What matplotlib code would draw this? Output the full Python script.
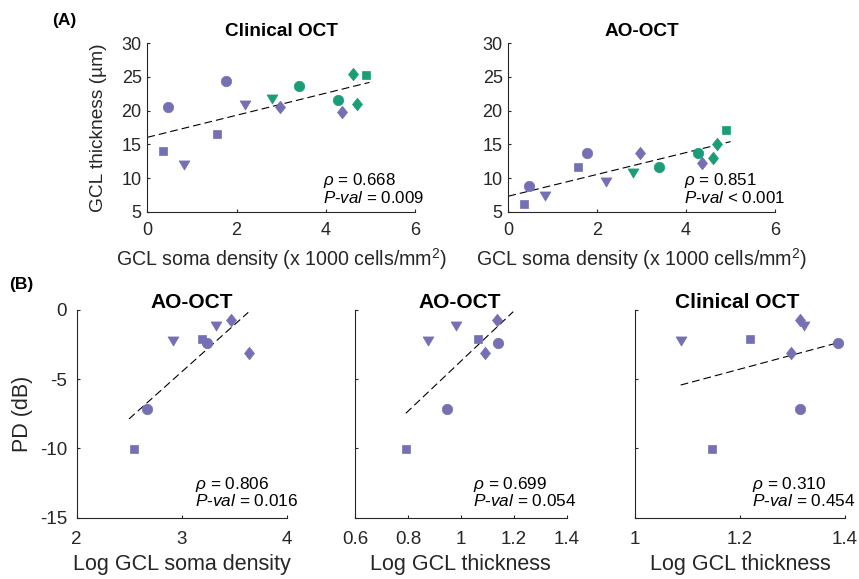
import matplotlib
matplotlib.use("Agg")
import matplotlib.pyplot as plt
import numpy as np
from matplotlib.path import Path

plt.rcParams['font.family'] = ['Liberation Sans', 'DejaVu Sans']
plt.rcParams['mathtext.fontset'] = 'custom'
plt.rcParams['mathtext.rm'] = 'Liberation Sans'
plt.rcParams['mathtext.it'] = 'Liberation Sans:italic'
plt.rcParams['mathtext.bf'] = 'Liberation Sans:bold'
plt.rcParams['axes.unicode_minus'] = False

# ---------------- data ----------------
# Panel A: GCL soma density (x1000 cells/mm^2) vs GCL thickness (um)
soma_density = [0.36, 0.47, 0.83, 1.56, 1.76, 2.19, 2.80, 2.97, 3.40, 4.27, 4.36, 4.60, 4.69, 4.90]
thick_clinical = [14.0, 20.5, 12.0, 16.5, 24.4, 20.8, 21.8, 20.5, 23.6, 21.6, 19.75, 25.5, 21.0, 25.25]
thick_aooct = [6.2, 8.8, 7.3, 11.6, 13.7, 9.4, 10.8, 13.7, 11.6, 13.7, 12.3, 13.0, 15.1, 17.2]
a_markers = ['s', 'o', 'v', 's', 'o', 'v', 'v', 'd', 'o', 'o', 'd', 'd', 'd', 's']
a_groups = ['p', 'p', 'p', 'p', 'p', 'p', 'g', 'p', 'g', 'g', 'p', 'g', 'g', 'g']

fitA_clin_x = [0.0, 4.98]
fitA_clin_y = [16.04, 24.2]
fitA_ao_x = [0.0, 5.0]
fitA_ao_y = [7.3, 15.4]

# Panel B: PD (dB) vs log measures (purple group only)
pd_db = [-10.06, -7.15, -2.24, -2.12, -2.41, -1.16, -0.72, -3.13]
b_markers = ['s', 'o', 'v', 's', 'o', 'v', 'd', 'd']
log_soma = [2.546, 2.667, 2.914, 3.19, 3.238, 3.33, 3.47, 3.64]
log_thick_ao = [0.792, 0.949, 0.877, 1.066, 1.139, 0.982, 1.138, 1.092]
log_thick_clin = [1.147, 1.314, 1.087, 1.219, 1.387, 1.322, 1.314, 1.297]

fitB_soma_x = [2.498, 3.634]
fitB_soma_y = [-7.87, -0.17]
fitB_ao_x = [0.792, 1.198]
fitB_ao_y = [-7.46, -0.12]
fitB_clin_x = [1.087, 1.39]
fitB_clin_y = [-5.42, -2.33]

stats_A = [("0.668", "= 0.009"), ("0.851", "< 0.001")]
stats_B = [("0.806", "= 0.016"), ("0.699", "= 0.054"), ("0.310", "= 0.454")]

colors = {'p': '#7570b3', 'g': '#1b9e77'}
TXT = '#262626'

# MATLAB-like marker shapes
diamond = Path([(0, 0.5), (0.4, 0), (0, -0.5), (-0.4, 0), (0, 0.5)],
               [Path.MOVETO, Path.LINETO, Path.LINETO, Path.LINETO, Path.CLOSEPOLY])
tri_down = Path([(-0.5, 0.42), (0.5, 0.42), (0, -0.42), (-0.5, 0.42)],
                [Path.MOVETO, Path.LINETO, Path.LINETO, Path.CLOSEPOLY])
marker_map = {'o': ('o', 7.5), 's': ('s', 5.6), 'v': (tri_down, 7.8), 'd': (diamond, 9.0)}

W, H = 859, 579
fig = plt.figure(figsize=(W / 100, H / 100), dpi=100)


def px_axes(x0, x1, y0, y1):
    return fig.add_axes([x0 / W, 1 - y1 / H, (x1 - x0) / W, (y1 - y0) / H])


def style(ax, tick_fs, pad_x, pad_y):
    for s in ['top', 'right']:
        ax.spines[s].set_visible(False)
    for s in ['left', 'bottom']:
        ax.spines[s].set_color(TXT)
        ax.spines[s].set_linewidth(0.8)
    ax.tick_params(direction='in', length=2.5, width=0.8, colors=TXT,
                   labelsize=tick_fs, labelcolor=TXT)
    ax.tick_params(axis='x', pad=pad_x)
    ax.tick_params(axis='y', pad=pad_y)


def scatter(ax, xs, ys, markers, groups):
    for x, y, m, g in zip(xs, ys, markers, groups):
        mk, ms = marker_map[m]
        ax.plot(x, y, linestyle='none', marker=mk, ms=ms,
                color=colors[g], mec=colors[g], mew=0.5, zorder=3)


def stats_text(ax, xf, yf1, yf2, rho, pv, fs):
    ax.text(xf, yf1, r"$\rho$ = " + rho, transform=ax.transAxes, fontsize=fs,
            color='black', ha='left', va='baseline')
    ax.text(xf, yf2, r"$P$-$val$ " + pv, transform=ax.transAxes, fontsize=fs,
            color='black', ha='left', va='baseline')


# ---- Panel A ----
axA1 = px_axes(147.3, 415.0, 43.3, 211.7)
axA2 = px_axes(508.3, 775.0, 43.3, 211.7)
for ax, ys, fx, fy, title, st, xf in [
        (axA1, thick_clinical, fitA_clin_x, fitA_clin_y, 'Clinical OCT', stats_A[0], 0.655),
        (axA2, thick_aooct, fitA_ao_x, fitA_ao_y, 'AO-OCT', stats_A[1], 0.659)]:
    style(ax, 13, 7.5, 4)
    scatter(ax, soma_density, ys, a_markers, a_groups)
    ax.plot(fx, fy, color='black', lw=0.8, dashes=(7, 3.6), zorder=2)
    ax.set_xlim(0, 6)
    ax.set_ylim(5, 30)
    ax.set_xticks([0, 2, 4, 6])
    ax.set_yticks([5, 10, 15, 20, 25, 30])
    ax.text(0.5, 1.043, title, transform=ax.transAxes, ha='center', va='baseline',
            fontsize=13.7, fontweight='bold', color='black')
    ax.set_xlabel(r"GCL soma density (x 1000 cells/mm$^2$)", fontsize=14.1, color=TXT)
    ax.xaxis.label.set_va('baseline')
    ax.xaxis.set_label_coords(0.5, -0.322)
    stats_text(ax, xf, 0.159, 0.05, st[0], st[1], 12.2)

axA1.set_ylabel(u"GCL thickness (\u00b5m)", fontsize=13.8, color=TXT)
axA1.yaxis.label.set_va('center')
axA1.yaxis.set_label_coords(-0.184, 0.5)

# ---- Panel B ----
axB1 = px_axes(76.7, 286.7, 310.0, 517.7)
axB2 = px_axes(355.0, 566.7, 310.0, 517.7)
axB3 = px_axes(635.0, 845.0, 310.0, 517.7)
panelsB = [
    (axB1, log_soma, fitB_soma_x, fitB_soma_y, 'AO-OCT', stats_B[0], 0.563,
     (2, 4), [2, 3, 4], ['2', '3', '4'], 'Log GCL soma density', 0.549),
    (axB2, log_thick_ao, fitB_ao_x, fitB_ao_y, 'AO-OCT', stats_B[1], 0.559,
     (0.6, 1.4), [0.6, 0.8, 1.0, 1.2, 1.4], ['0.6', '0.8', '1', '1.2', '1.4'],
     'Log GCL thickness', 0.497),
    (axB3, log_thick_clin, fitB_clin_x, fitB_clin_y, 'Clinical OCT', stats_B[2], 0.556,
     (1, 1.4), [1.0, 1.2, 1.4], ['1', '1.2', '1.4'], 'Log GCL thickness', 0.488),
]
for ax, xs, fx, fy, title, st, xf, xl, xt, xtl, xlabel, tx in panelsB:
    style(ax, 13.5, 9.5, 7)
    scatter(ax, xs, pd_db, b_markers, ['p'] * len(xs))
    ax.plot(fx, fy, color='black', lw=0.8, dashes=(7, 3.6), zorder=2)
    ax.set_xlim(*xl)
    ax.set_ylim(-15, 0)
    ax.set_xticks(xt)
    ax.set_xticklabels(xtl)
    ax.set_yticks([-15, -10, -5, 0])
    if ax is not axB1:
        ax.set_yticklabels([])
    ax.text(tx, 1.008, title, transform=ax.transAxes, ha='center', va='baseline',
            fontsize=15, fontweight='bold', color='black')
    ax.set_xlabel(xlabel, fontsize=15.5, color=TXT)
    ax.xaxis.label.set_va('baseline')
    ax.xaxis.set_label_coords(0.5, -0.25)
    stats_text(ax, xf, 0.137, 0.056, st[0], st[1], 12.4)

axB1.set_ylabel('PD (dB)', fontsize=15.5, color=TXT)
axB1.yaxis.label.set_va('center')
axB1.yaxis.set_label_coords(-0.257, 0.5)

# panel labels
fig.text(51.7 / W, 1 - 20 / H, '(A)', fontsize=12.5, fontweight='bold', va='center', ha='left')
fig.text(9 / W, 1 - 284 / H, '(B)', fontsize=12.5, fontweight='bold', va='center', ha='left')

fig.savefig('out.png', dpi=100)
